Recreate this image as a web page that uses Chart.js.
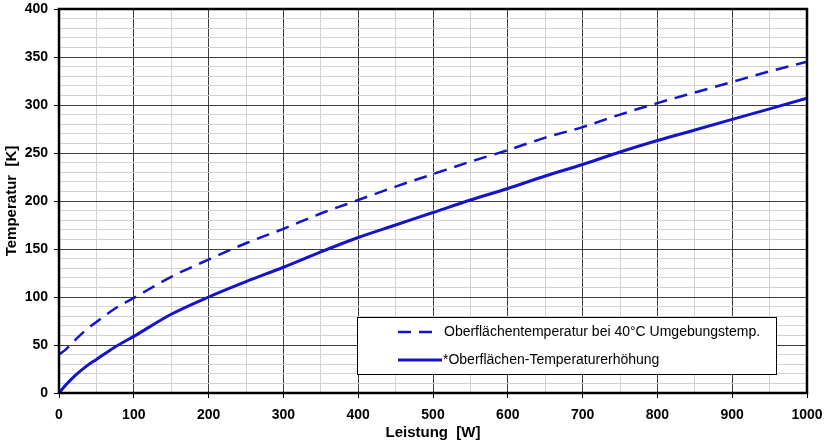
<!DOCTYPE html>
<html>
<head>
<meta charset="utf-8">
<script src="https://cdn.jsdelivr.net/npm/chart.js@4/dist/chart.umd.min.js"></script>
<style>
  html, body { margin: 0; padding: 0; background: #fff; }
  #wrap { width: 827px; height: 445px; }
</style>
</head>
<body>
<div id="wrap"><canvas id="chartTemp" width="827" height="445"></canvas></div>
<script>
// Werte
const leistungW = [0, 10, 20, 35, 50, 75, 100, 150, 200, 250, 300, 350, 400, 450, 500, 550, 600, 650, 700, 750, 800, 850, 900, 950, 1000];
const oberflaecheK = [40, 46, 54, 65, 74, 88, 99, 121, 139, 156, 171, 187, 201, 215, 228, 241, 253, 266, 277, 290, 302, 313, 324, 335, 345];
const erhoehungK = [0, 9, 17, 27, 35, 48, 59, 82, 100, 116, 131, 147, 162, 175, 188, 201, 213, 226, 238, 251, 263, 274, 285, 296, 307];
const labels = ['Oberflächentemperatur bei 40°C Umgebungstemp.', '*Oberflächen-Temperaturerhöhung'];

const BLAU = '#1414c8';
const DASH = [13, 8];

const toPoints = ys => leistungW.map((x, i) => ({ x: x, y: ys[i] }));

// Rahmen um die Zeichenfläche
const rahmenPlugin = {
    id: 'rahmen',
    afterDatasetsDraw(chart) {
        const { ctx, chartArea: a } = chart;
        ctx.save();
        ctx.strokeStyle = '#000';
        ctx.lineWidth = 2.5;
        ctx.strokeRect(a.left, a.top, a.right - a.left, a.bottom - a.top);
        ctx.restore();
    }
};

// Legende im Diagramm (unten rechts)
const legendePlugin = {
    id: 'legendeBox',
    afterDraw(chart) {
        const ctx = chart.ctx;
        const box = { x: 357, y: 317, w: 419, h: 57 };
        ctx.save();
        ctx.fillStyle = '#fff';
        ctx.fillRect(box.x, box.y, box.w, box.h);
        ctx.strokeStyle = '#000';
        ctx.lineWidth = 1;
        ctx.strokeRect(box.x + 0.5, box.y + 0.5, box.w, box.h);

        ctx.font = '14px "Liberation Sans", Arial, sans-serif';
        ctx.textBaseline = 'middle';
        ctx.fillStyle = '#000';
        chart.data.datasets.forEach((ds, i) => {
            const y = box.y + 15 + i * 28;
            ctx.strokeStyle = ds.borderColor;
            ctx.lineWidth = ds.borderWidth;
            ctx.setLineDash(ds.borderDash || []);
            ctx.beginPath();
            ctx.moveTo(398, y);
            ctx.lineTo(i === 0 ? 437 : 442, y);
            ctx.stroke();
            ctx.setLineDash([]);
            ctx.fillText(ds.label, i === 0 ? 444 : 443, y);
        });
        ctx.restore();
    }
};

const major = (v, step) => Math.abs(v % step) < 1e-6;

new Chart(document.getElementById('chartTemp').getContext('2d'), {
    type: 'line',
    data: {
        datasets: [
            {
                label: labels[0],
                data: toPoints(oberflaecheK),
                borderColor: BLAU,
                borderWidth: 2.5,
                borderDash: DASH,
                pointRadius: 0,
                cubicInterpolationMode: 'monotone',
                fill: false
            },
            {
                label: labels[1],
                data: toPoints(erhoehungK),
                borderColor: BLAU,
                borderWidth: 3,
                pointRadius: 0,
                cubicInterpolationMode: 'monotone',
                fill: false
            }
        ]
    },
    plugins: [rahmenPlugin, legendePlugin],
    options: {
        responsive: false,
        animation: false,
        layout: { padding: { top: 9, right: 20, left: 0, bottom: 0 } },
        plugins: {
            legend: { display: false },
            tooltip: { enabled: false }
        },
        scales: {
            x: {
                type: 'linear',
                min: 0,
                max: 1000,
                afterFit: s => { s.height = 52; s.paddingLeft = 0; s.paddingRight = 0; },
                border: { display: false },
                grid: {
                    color: c => major(c.tick.value, 100) ? '#3c3c3c' : '#d2d2d2',
                    tickColor: c => major(c.tick.value, 100) ? '#000' : 'rgba(0,0,0,0)',
                    tickLength: 5,
                    lineWidth: 1
                },
                ticks: {
                    stepSize: 50,
                    autoSkip: false,
                    maxRotation: 0,
                    padding: 9,
                    color: '#000',
                    font: { family: '"Liberation Sans", Arial, sans-serif', size: 14, weight: 'bold' },
                    callback: v => major(v, 100) ? String(v) : ''
                },
                title: {
                    display: true,
                    text: 'Leistung  [W]',
                    color: '#000',
                    padding: { top: 0, bottom: 3 },
                    font: { family: '"Liberation Sans", Arial, sans-serif', size: 15, weight: 'bold' }
                }
            },
            y: {
                type: 'linear',
                min: 0,
                max: 400,
                afterFit: s => { s.width = 59; s.paddingTop = 0; s.paddingBottom = 0; },
                border: { display: false },
                grid: {
                    color: c => major(c.tick.value, 50) ? '#3c3c3c' : '#d2d2d2',
                    tickColor: c => major(c.tick.value, 50) ? '#000' : 'rgba(0,0,0,0)',
                    tickLength: 5,
                    lineWidth: 1
                },
                ticks: {
                    stepSize: 10,
                    autoSkip: false,
                    padding: 6,
                    color: '#000',
                    font: { family: '"Liberation Sans", Arial, sans-serif', size: 14, weight: 'bold' },
                    callback: v => major(v, 50) ? String(v) : ''
                },
                title: {
                    display: true,
                    text: 'Temperatur  [K]',
                    color: '#000',
                    padding: { top: 3, bottom: 0 },
                    font: { family: '"Liberation Sans", Arial, sans-serif', size: 15, weight: 'bold' }
                }
            }
        }
    }
});
</script>
</body>
</html>
